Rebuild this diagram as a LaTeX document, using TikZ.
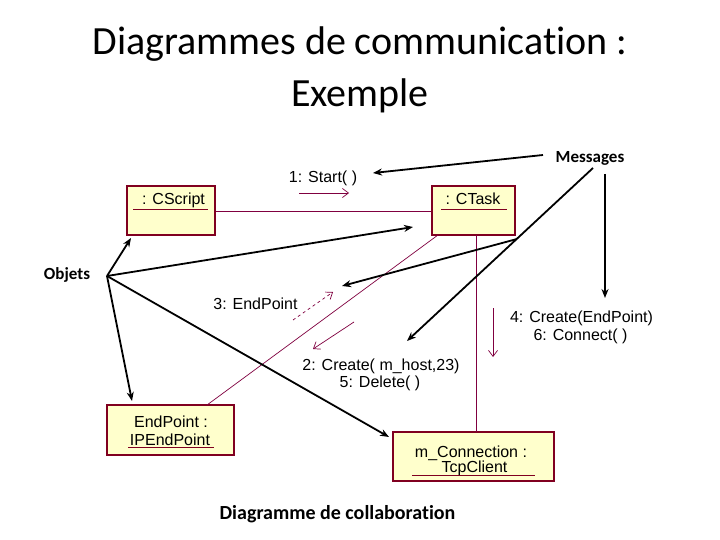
\documentclass[tikz,border=0pt]{standalone}
\usepackage{fontspec}
\setmainfont[Ligatures=NoCommon]{Carlito}
\newfontfamily\arialf{Liberation Sans}
\usetikzlibrary{arrows.meta}
\definecolor{boxfill}{RGB}{255,255,204}
\definecolor{boxline}{RGB}{128,0,32}
\definecolor{linkc}{RGB}{128,0,64}
\tikzset{
  objbox/.style={draw=boxline, fill=boxfill, line width=1.2pt, inner sep=0pt},
  boxtxt/.style={font=\arialf\fontsize{16}{18}\selectfont, anchor=base, inner sep=0pt},
  msgtxt/.style={font=\arialf\fontsize{16}{18}\selectfont, anchor=base, inner sep=0pt},
  link/.style={draw=linkc, line width=0.7pt},
  ulthick/.style={draw=boxline, line width=1.8pt},
  ulthin/.style={draw=boxline, line width=0.8pt},
  msgarrow/.style={draw=linkc, line width=0.7pt, -{Straight Barb[length=6pt,width=9pt]}},
  annot/.style={draw=black, line width=1.8pt, -{Stealth[length=9pt,width=7pt]}},
  annottxt/.style={font=\bfseries\fontsize{17}{20}\selectfont, anchor=base, inner sep=0pt},
}
\begin{document}
\begin{tikzpicture}[x=1pt,y=-1pt]
\useasboundingbox (0,0) rectangle (720,540);
\fill[white] (0,0) rectangle (720,540);

% title
\node[font=\fontsize{40}{48}\selectfont, anchor=base, inner sep=0pt] (title1) at (360,55) {Diagrammes de communication :};
\node[font=\fontsize{40}{48}\selectfont, anchor=base, inner sep=0pt] (title2) at (360,107) {Exemple};

% object boxes
\node[objbox, minimum width=88pt, minimum height=49pt] (cscript) at (171,210.5) {};
\node[objbox, minimum width=83pt, minimum height=49pt] (ctask) at (473.5,210.5) {};
\node[objbox, minimum width=127pt, minimum height=50pt] (endpoint) at (170.5,430) {};
\node[objbox, minimum width=161pt, minimum height=49pt] (mconn) at (473.5,456.5) {};

% links
\coordinate (ctaskB) at (476,235);
\coordinate (mconnT) at (476,432);
\coordinate (ctaskBL) at (438,235);
\coordinate (endpointT) at (207,405);
\draw[link] (cscript.east |- 0,211) -- (ctask.west |- 0,211);
\draw[link] (ctaskB) -- (mconnT);
\draw[link] (ctaskBL) -- (endpointT);

% box texts
\node[boxtxt] (t1) at (173.5,205) {: CScript};
\draw[ulthick] (133,209.5) -- (208,209.5);
\node[boxtxt] (t2) at (473,205) {: CTask};
\draw[ulthick] (441,209.5) -- (507,209.5);
\node[boxtxt] (t3) at (171,427) {EndPoint :};
\node[boxtxt] (t4) at (170,445) {IPEndPoint};
\draw[ulthin] (128,447.5) -- (214,447.5);
\node[boxtxt] (t5) at (471,457) {m\_Connection :};
\node[boxtxt] (t6) at (474.5,472) {TcpClient};
\draw[ulthick] (412,475.5) -- (535,475.5);

% message labels
\node[msgtxt] (m1) at (323,183) {1: Start( )};
\node[msgtxt] (m3) at (255.5,309) {3: EndPoint};
\node[msgtxt] (m2a) at (381,370) {2: Create( m\_host,23)};
\node[msgtxt] (m2b) at (380,387) {5: Delete( )};
\node[msgtxt] (m4a) at (581.5,322) {4: Create(EndPoint)};
\node[msgtxt] (m4b) at (580.5,340) {6: Connect( )};

% message arrows
\coordinate (a1s) at (299,193); \coordinate (a1e) at (349,193);
\draw[msgarrow] (a1s) -- (a1e);
\coordinate (a3s) at (293,320); \coordinate (a3e) at (333,292);
\draw[msgarrow, dashed] (a3s) -- (a3e);
\coordinate (a2s) at (354,322); \coordinate (a2e) at (313,349);
\draw[msgarrow] (a2s) -- (a2e);
\coordinate (a4s) at (493,308); \coordinate (a4e) at (493,357);
\draw[msgarrow] (a4s) -- (a4e);

% annotations
\node[annottxt] (messages) at (590,163) {Messages};
\node[annottxt] (objets) at (67,279) {Objets};

\coordinate (mA) at (543,155); \coordinate (mAt) at (373,173);
\coordinate (mB) at (605,174); \coordinate (mBt) at (605,298);
\coordinate (mC) at (593,168); \coordinate (mCt) at (407,341);
\coordinate (mD) at (517,239); \coordinate (mDt) at (342,286);
\draw[annot] (mA) -- (mAt);
\draw[annot] (mB) -- (mBt);
\draw[annot] (mC) -- (mCt);
\draw[annot] (mD) -- (mDt);

\coordinate (hub) at (107,276);
\coordinate (oA) at (131,238);
\coordinate (oB) at (413,227);
\coordinate (oC) at (132,401);
\coordinate (oD) at (389,437);
\draw[annot] (hub) -- (oA);
\draw[annot] (hub) -- (oB);
\draw[annot] (hub) -- (oC);
\draw[annot] (hub) -- (oD);

\node[font=\bfseries\fontsize{20}{24}\selectfont, anchor=base, inner sep=0pt] (caption) at (337.5,519) {Diagramme de collaboration};
\end{tikzpicture}
\end{document}
